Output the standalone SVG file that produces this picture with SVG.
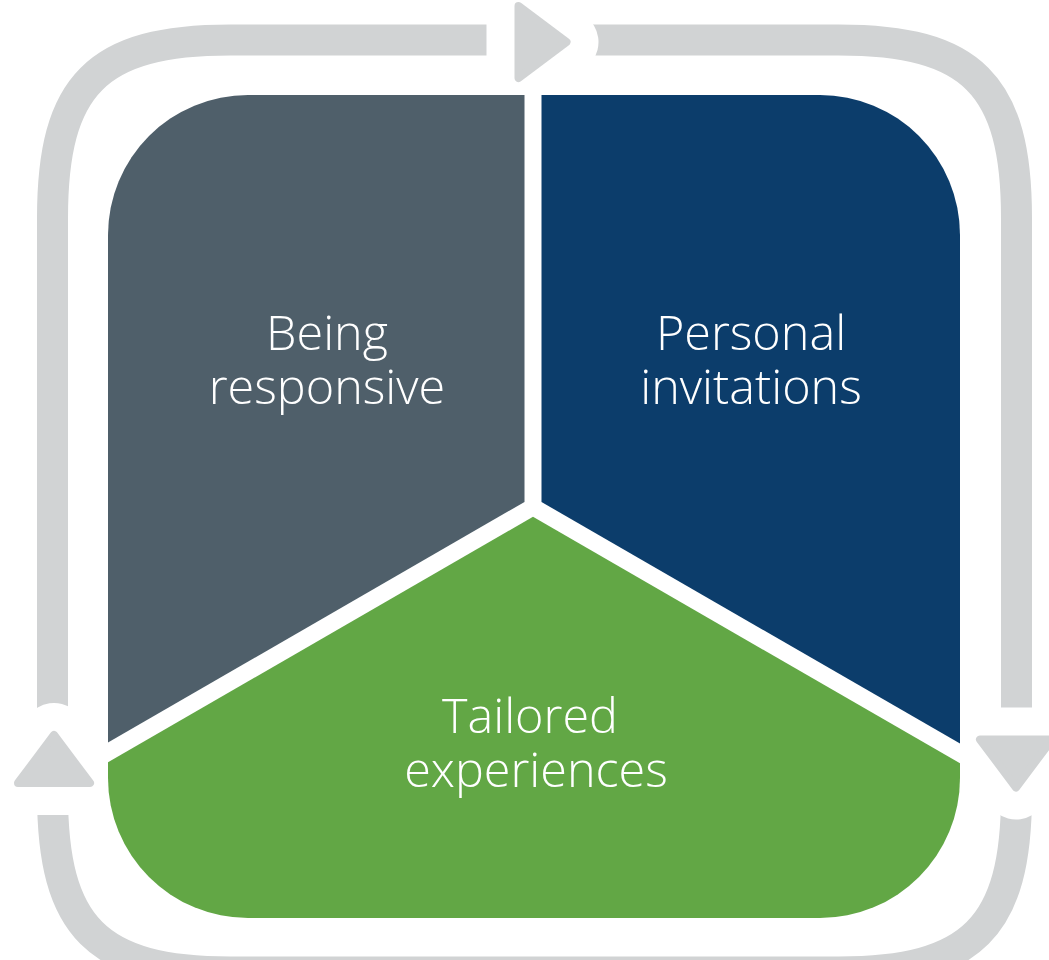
<svg xmlns="http://www.w3.org/2000/svg" width="1049" height="960" viewBox="0 0 1049 960">
  <defs>
    <style>
      .ring { fill: none; stroke: #D1D3D4; stroke-width: 31; }
      .cut { fill: #FFFFFF; stroke: #FFFFFF; stroke-width: 64; stroke-linejoin: round; }
      .arrow { fill: #D1D3D4; stroke: #D1D3D4; stroke-width: 8; stroke-linejoin: round; }
      .label { font-family: "Open Sans", "Liberation Sans", sans-serif; font-weight: 300; font-size: 48.5px; fill: #FFFFFF; text-anchor: middle; }
    </style>
    <polygon id="tri" points="-24,-36 24,0 -24,36"/>
    <clipPath id="panel">
      <rect x="108" y="95" width="852" height="823" rx="140" ry="140"/>
    </clipPath>
  </defs>
  <rect width="1049" height="960" fill="#FFFFFF"/>

  <g id="connectors">
    <path class="ring" d="M 230.5 40 H 838.5 C 972 40 1016.5 84.5 1016.5 218 V 794 C 1016.5 927.5 972 972 838.5 972 H 230.5 C 97 972 52.5 927.5 52.5 794 V 218 C 52.5 84.5 97 40 230.5 40 Z"/>
    <use href="#tri" class="cut" transform="translate(542.5,42)"/>
    <use href="#tri" class="cut" transform="translate(54,759) rotate(-90)"/>
    <use href="#tri" class="cut" transform="translate(1016,763.5) rotate(90)"/>
    <use href="#tri" class="arrow" transform="translate(542.5,42)"/>
    <use href="#tri" class="arrow" transform="translate(54,759) rotate(-90)"/>
    <use href="#tri" class="arrow" transform="translate(1016,763.5) rotate(90)"/>
  </g>

  <g id="node-being-responsive">
    <polygon clip-path="url(#panel)" fill="#4F5F6A" points="50,50 524.5,50 524.5,502 50,776"/>
    <text class="label" x="327" y="350">Being</text>
    <text class="label" x="327" y="404">responsive</text>
  </g>

  <g id="node-personal-invitations">
    <polygon clip-path="url(#panel)" fill="#0C3D6B" points="541.5,50 1000,50 1000,766.7 541.5,502"/>
    <text class="label" x="751" y="350">Personal</text>
    <text class="label" x="751" y="404">invitations</text>
  </g>

  <g id="node-tailored-experiences">
    <polygon clip-path="url(#panel)" fill="#62A745" points="533,516.8 1000,786.4 1000,950 50,950 50,795.7"/>
    <text class="label" x="530" y="733">Tailored</text>
    <text class="label" x="536" y="787">experiences</text>
  </g>
</svg>
